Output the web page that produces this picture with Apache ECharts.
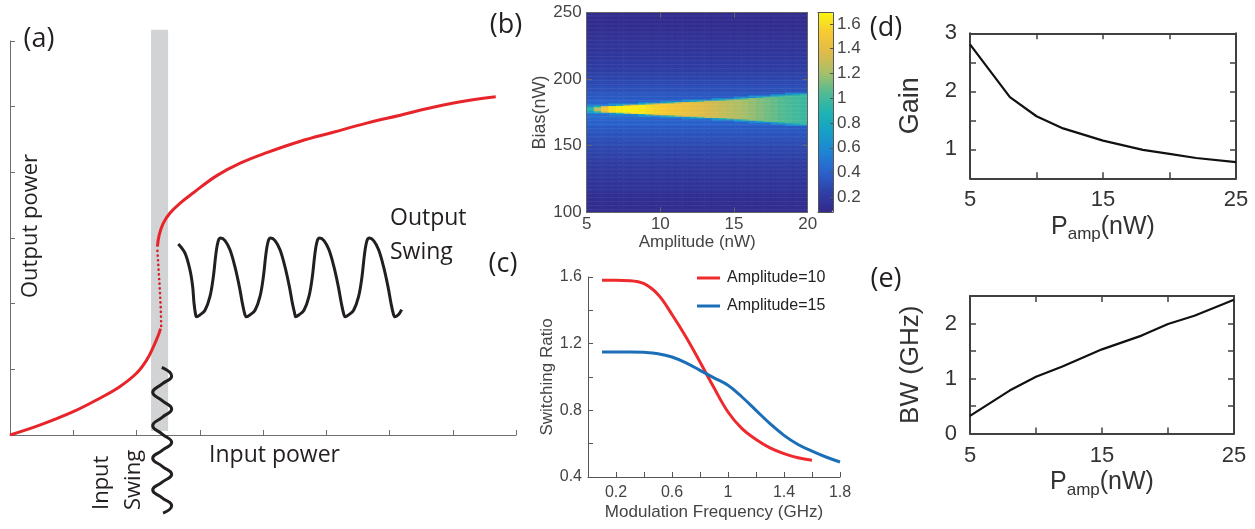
<!DOCTYPE html>
<html><head><meta charset="utf-8">
<script src="https://cdn.jsdelivr.net/npm/echarts@6/dist/echarts.min.js"></script>
<style>html,body{margin:0;padding:0;background:#fff}#c{width:1255px;height:529px}</style>
</head><body><div id="c"></div>
<script>
// ---------- Panel (a): schematic bistable transfer curve (x: 0-8, y: 0-6) ----------
const lowerBranch = [[0,0],[0.47,0.15],[1.0,0.355],[1.42,0.56],[1.74,0.74],[2.0,0.94],[2.16,1.14],[2.27,1.35],[2.345,1.52],[2.38,1.62]];
const unstableBranch = [[2.39,1.66],[2.385,1.9],[2.37,2.2],[2.35,2.5],[2.33,2.82]];
const upperBranch = [[2.33,2.87],[2.36,3.05],[2.42,3.22],[2.53,3.38],[2.69,3.53],[2.90,3.69],[3.27,3.95],[3.64,4.14],[4.06,4.30],[4.58,4.47],[5.11,4.61],[5.64,4.75],[6.17,4.87],[6.69,4.99],[7.22,5.09],[7.68,5.15]];
const outputSwing = [
  [2.661,2.91],[2.767,2.77],[2.846,2.51],[2.888,2.26],[2.909,2.01],[2.935,1.83],
  [2.951,1.80],[3.004,1.83],[3.083,1.90],[3.162,2.11],[3.215,2.41],[3.257,2.77],[3.294,2.96],[3.330,3.00],[3.399,2.96],[3.478,2.82],[3.557,2.56],[3.626,2.26],[3.673,2.01],[3.715,1.83],
  [3.742,1.80],[3.795,1.83],[3.874,1.90],[3.953,2.11],[4.006,2.41],[4.048,2.77],[4.085,2.96],[4.121,3.00],[4.190,2.96],[4.269,2.82],[4.348,2.56],[4.417,2.26],[4.464,2.01],[4.506,1.83],
  [4.516,1.80],[4.569,1.83],[4.648,1.90],[4.727,2.11],[4.780,2.41],[4.822,2.77],[4.859,2.96],[4.895,3.00],[4.964,2.96],[5.043,2.82],[5.122,2.56],[5.191,2.26],[5.238,2.01],[5.280,1.83],
  [5.301,1.80],[5.354,1.83],[5.433,1.90],[5.512,2.11],[5.565,2.41],[5.607,2.77],[5.644,2.96],[5.680,3.00],[5.749,2.96],[5.828,2.82],[5.907,2.56],[5.976,2.26],[6.023,2.01],[6.065,1.83],
  [6.087,1.80],[6.140,1.83],[6.192,1.91]
];
const inputSwing = [[2.40,1.03],[2.556,0.90],[2.406,0.777],[2.256,0.65],[2.406,0.523],[2.556,0.396],[2.406,0.269],[2.256,0.142],[2.406,0.015],[2.556,-0.112],[2.406,-0.234],[2.256,-0.355],[2.406,-0.477],[2.556,-0.599],[2.406,-0.719],[2.256,-0.838],[2.406,-0.957],[2.556,-1.076],[2.42,-1.19]];
const grayBand = [2.23, 2.50, 0.06, 6.17]; // x from, x to, y from, y to

// ---------- Panel (b): heat map, read per amplitude column / bias band ----------
const ampCols = [5.25,5.75,6.25,6.75,7.25,7.75,8.25,8.75,9.25,9.75,10.25,10.75,11.25,11.75,12.25,12.75,13.25,13.75,14.25,14.75,15.25,15.75,16.25,16.75,17.25,17.75,18.25,18.75,19.25,19.75];
const wedgeCenter = 177.5;
const wedgeHalf = [1.7,2.0,2.3,2.5,2.8,3.1,3.4,3.7,4.0,4.3,4.6,4.9,5.2,5.5,5.8,6.1,6.4,6.7,7.0,7.3,7.7,8.1,8.5,8.9,9.4,9.8,10.2,10.6,11.0,11.4];
const wedgePeak = [0.9,1.25,1.5,1.62,1.66,1.67,1.66,1.64,1.6,1.56,1.53,1.5,1.47,1.44,1.41,1.38,1.35,1.32,1.29,1.26,1.23,1.2,1.17,1.14,1.11,1.08,1.05,1.02,1.0,0.98];
const rimValue = 0.6;
// background per 5-nW bias band, from 100 to 250
const bgBands = [0.12,0.12,0.13,0.16,0.17,0.19,0.2,0.22,0.25,0.27,0.3,0.33,0.36,0.4,0.45,0.45,0.4,0.36,0.32,0.29,0.26,0.23,0.21,0.19,0.17,0.16,0.14,0.12,0.11,0.11];
const colorbarTicks = [0.2,0.4,0.6,0.8,1,1.2,1.4,1.6];
// colour scale, equally spaced from 0.08 to 1.69
const colorScale = ['#33288a','#2f40a6','#2a62cc','#1f84d2','#179fc8','#1fb3b3','#52bb92','#a8bf69','#dfbb4a','#f7c933','#f9f50f'];

// ---------- Panel (c) ----------
const freq10 = [0.1,0.2,0.3,0.4,0.5,0.6,0.7,0.8,0.9,1.0,1.1,1.2,1.3,1.4,1.5,1.6];
const ratio10 = [1.58,1.58,1.578,1.56,1.495,1.375,1.24,1.09,0.935,0.79,0.69,0.625,0.575,0.54,0.515,0.50];
const freq15 = [0.1,0.2,0.3,0.4,0.5,0.6,0.7,0.8,0.9,1.0,1.1,1.2,1.3,1.4,1.5,1.6,1.7,1.8];
const ratio15 = [1.15,1.15,1.15,1.148,1.14,1.12,1.085,1.04,0.995,0.95,0.88,0.80,0.72,0.65,0.595,0.555,0.52,0.49];

// ---------- Panels (d), (e) ----------
const pAmp = [5,8,10,12,15,18,20,22,25];
const gain = [2.81,1.90,1.57,1.36,1.15,0.99,0.92,0.85,0.78];
const bw = [0.32,0.78,1.03,1.22,1.53,1.78,1.99,2.14,2.43];

// ---------- build ----------
const biasRows = [];
for (let b = 100; b < 250; b++) biasRows.push(String(b + 0.5));
const heatData = [];
ampCols.forEach((a, i) => {
  biasRows.forEach((bs, j) => {
    const d = Math.abs(parseFloat(bs) - wedgeCenter);
    const hw = wedgeHalf[i];
    let v;
    if (d <= hw - 0.5) v = wedgePeak[i];
    else if (d <= hw + 0.5) { const f = hw + 0.5 - d; v = f * wedgePeak[i] + (1 - f) * rimValue; }
    else if (d <= hw + 1.5) v = rimValue;
    else v = bgBands[Math.floor(j / 5)];
    heatData.push([i, j, v]);
  });
});
const zip = (xs, ys) => xs.map((x, i) => [x, ys[i]]);

const HF = 'Liberation Sans';
const OF = 'Open Sans';
const G = (left, top, width, height) => ({left, top, width, height, containLabel:false, outerBoundsMode:'none', show:false});

function axis(o) {
  const col = o.color || '#555';
  const lw = o.lw || 1;
  const a = {
    type: 'value', gridIndex: o.g, min: o.min, max: o.max, interval: o.interval,
    position: o.position, z: o.z || 0,
    axisLine: {show: true, onZero: false, lineStyle: {color: col, width: lw}},
    axisTick: {show: o.tick !== false, inside: true, length: o.tl || 5, lineStyle: {color: col, width: o.tw || 1}},
    splitLine: {show: false},
    axisLabel: {show: !!o.labels, color: o.lc || '#444', fontSize: o.fs || 16, fontFamily: HF, margin: o.margin || 6},
    name: o.name || '', nameLocation: 'middle', nameGap: o.nameGap || 20,
    nameTextStyle: Object.assign({color: o.lc || '#444', fontSize: o.nfs || 17, fontFamily: HF}, o.nts || {})
  };
  if (o.labels) a.axisLabel.customValues = o.labels;
  if (o.ticks) a.axisTick.customValues = o.ticks;
  return a;
}

const pampName = {
  name:'{p|P}{s|amp}{p|(nW)}', nameGap:32,
  nts:{rich:{p:{fontSize:25, fontFamily:HF, color:'#333'}, s:{fontSize:17, fontFamily:HF, color:'#333', padding:[16,0,0,0]}}}
};

const option = {
  animation: false,
  backgroundColor: '#fff',
  textStyle: {fontFamily: HF},
  grid: [
    G(10, 41, 506, 394),
    G(586.7, 12.7, 221, 199.5),
    G(586.7, 12.7, 221, 199.5),
    G(818, 12.7, 15, 199.5),
    G(588, 277, 252, 200),
    G(970, 33.3, 266, 145),
    G(970, 296, 264, 137.5)
  ],
  xAxis: [
    axis({g:0, min:0, max:8, interval:1, color:'#6d6e71', position:'bottom'}),
    {type:'category', gridIndex:1, data: ampCols.map(String), show:false},
    axis({g:2, min:5, max:20, interval:5, color:'#666', position:'bottom', labels:[5,10,15,20], fs:17, margin:4, z:10,
          name:'Amplitude (nW)', nameGap:22, nfs:17}),
    axis({g:2, min:5, max:20, interval:5, color:'#666', position:'top', z:10}),
    axis({g:3, min:0, max:1, color:'#555', position:'bottom', tick:false, z:10}),
    axis({g:3, min:0, max:1, color:'#555', position:'top', tick:false, z:10}),
    axis({g:4, min:0, max:1.8, interval:0.2, color:'#555', position:'bottom', labels:[0.2,0.6,1,1.4,1.8], fs:16, margin:8,
          name:'Modulation Frequency (GHz)', nameGap:27, nfs:17}),
    axis(Object.assign({g:5, min:5, max:25, interval:5, color:'#404040', lw:2, tw:1.5, tl:6, position:'bottom', labels:[5,15,25], fs:22, margin:11, lc:'#333'}, pampName)),
    axis({g:5, min:5, max:25, interval:5, color:'#404040', lw:2, tw:1.5, tl:6, position:'top'}),
    axis(Object.assign({g:6, min:5, max:25, interval:5, color:'#404040', lw:2, tw:1.5, tl:6, position:'bottom', labels:[5,15,25], fs:22, margin:11, lc:'#333'}, pampName)),
    axis({g:6, min:5, max:25, interval:5, color:'#404040', lw:2, tw:1.5, tl:6, position:'top'})
  ],
  yAxis: [
    axis({g:0, min:0, max:6, interval:1, color:'#6d6e71', position:'left'}),
    {type:'category', gridIndex:1, data: biasRows, show:false},
    axis({g:2, min:100, max:250, interval:50, color:'#666', position:'left', labels:[100,150,200,250], fs:17, margin:5, z:10,
          name:'Bias(nW)', nameGap:37, nfs:18}),
    axis({g:2, min:100, max:250, interval:50, color:'#666', position:'right', z:10}),
    axis({g:3, min:0.08, max:1.69, color:'#555', position:'left', tick:false, z:10}),
    axis({g:3, min:0.08, max:1.69, color:'#555', position:'right', labels:colorbarTicks, ticks:colorbarTicks, tl:3, fs:17, margin:4, z:10}),
    axis({g:4, min:0.4, max:1.6, interval:0.2, color:'#555', position:'left', labels:[0.4,0.8,1.2,1.6], fs:16, margin:6,
          name:'Switching Ratio', nameGap:31, nfs:17}),
    axis({g:5, min:0.5, max:3, interval:0.5, color:'#404040', lw:2, tw:1.5, tl:6, position:'left', labels:[1,2,3], fs:22, margin:13, lc:'#333',
          name:'Gain', nameGap:46, nfs:27}),
    axis({g:5, min:0.5, max:3, interval:0.5, color:'#404040', lw:2, tw:1.5, tl:6, position:'right'}),
    axis({g:6, min:0, max:2.5, interval:0.5, color:'#404040', lw:2, tw:1.5, tl:6, position:'left', labels:[0,1,2], fs:22, margin:13, lc:'#333',
          name:'BW (GHz)', nameGap:46, nfs:26}),
    axis({g:6, min:0, max:2.5, interval:0.5, color:'#404040', lw:2, tw:1.5, tl:6, position:'right'})
  ],
  visualMap: {
    type:'continuous', seriesIndex: 6, min: 0.08, max: 1.69, calculable: false, hoverLink: false,
    left: 818, top: 12.7, itemWidth: 15, itemHeight: 199.5, padding: 0, text: null,
    inRange: {color: colorScale}
  },
  legend: {
    data: ['Amplitude=10', 'Amplitude=15'], orient: 'vertical', left: 692, top: 265, padding: 5,
    icon: 'rect', itemWidth: 23, itemHeight: 3, itemGap: 12, selectedMode: false,
    textStyle: {fontSize: 16, color: '#222', fontFamily: HF, padding: [0,0,0,2]}
  },
  series: [
    {type:'custom', xAxisIndex:0, yAxisIndex:0, data:[grayBand], clip:false, z:1, silent:true,
     encode:{x:[0,1], y:[2,3]},
     renderItem: (params, api) => {
       const p0 = api.coord([api.value(0), api.value(2)]);
       const p1 = api.coord([api.value(1), api.value(3)]);
       return {type:'rect', shape:{x:p0[0], y:p1[1], width:p1[0]-p0[0], height:p0[1]-p1[1]}, style:{fill:'#d1d3d4'}};
     }},
    {type:'line', xAxisIndex:0, yAxisIndex:0, data: lowerBranch, smooth:0.4, symbol:'none', z:3,
     lineStyle:{color:'#e8242b', width:3}},
    {type:'line', xAxisIndex:0, yAxisIndex:0, data: unstableBranch, symbol:'none', z:3,
     lineStyle:{color:'#d42027', width:2.6, type:[0.1,4.6], cap:'round'}},
    {type:'line', xAxisIndex:0, yAxisIndex:0, data: upperBranch, smooth:0.4, symbol:'none', z:3,
     lineStyle:{color:'#e8242b', width:3}},
    {type:'line', xAxisIndex:0, yAxisIndex:0, data: outputSwing, smooth:0.35, symbol:'none', z:3,
     lineStyle:{color:'#231f20', width:3}},
    {type:'line', xAxisIndex:0, yAxisIndex:0, data: inputSwing, smooth:0.5, symbol:'none', z:3, clip:false,
     lineStyle:{color:'#231f20', width:3}},
    {type:'heatmap', xAxisIndex:1, yAxisIndex:1, data: heatData, progressive:0, silent:true, emphasis:{disabled:true}},
    {type:'line', name:'Amplitude=10', xAxisIndex:6, yAxisIndex:6, data: zip(freq10, ratio10), smooth:0.4, symbol:'none',
     lineStyle:{color:'#ee2a2e', width:3}, itemStyle:{color:'#ee2a2e'}},
    {type:'line', name:'Amplitude=15', xAxisIndex:6, yAxisIndex:6, data: zip(freq15, ratio15), smooth:0.4, symbol:'none',
     lineStyle:{color:'#1c6fb7', width:3}, itemStyle:{color:'#1c6fb7'}},
    {type:'line', xAxisIndex:7, yAxisIndex:7, data: zip(pAmp, gain), symbol:'none',
     lineStyle:{color:'#111', width:2.2}},
    {type:'line', xAxisIndex:9, yAxisIndex:9, data: zip(pAmp, bw), symbol:'none',
     lineStyle:{color:'#111', width:2.2}}
  ],
  graphic: [
    {type:'text', x:39, y:39, style:{text:'(a)', fontSize:27, fontFamily:OF, fill:'#231f20', align:'center', verticalAlign:'middle'}},
    {type:'text', x:506, y:25, style:{text:'(b)', fontSize:27, fontFamily:OF, fill:'#231f20', align:'center', verticalAlign:'middle'}},
    {type:'text', x:503, y:264, style:{text:'(c)', fontSize:27, fontFamily:OF, fill:'#231f20', align:'center', verticalAlign:'middle'}},
    {type:'text', x:886, y:28, style:{text:'(d)', fontSize:27, fontFamily:OF, fill:'#231f20', align:'center', verticalAlign:'middle'}},
    {type:'text', x:886, y:279, style:{text:'(e)', fontSize:27, fontFamily:OF, fill:'#231f20', align:'center', verticalAlign:'middle'}},
    {type:'text', x:31, y:226, rotation:Math.PI/2, style:{text:'Output power', fontSize:22, fontFamily:OF, fill:'#231f20', align:'center', verticalAlign:'middle'}},
    {type:'text', x:274.5, y:455, style:{text:'Input power', fontSize:23, fontFamily:OF, fill:'#231f20', align:'center', verticalAlign:'middle'}},
    {type:'text', x:390, y:235, style:{text:'Output\nSwing', fontSize:23, lineHeight:34, fontFamily:OF, fill:'#231f20', align:'left', verticalAlign:'middle'}},
    {type:'text', x:118, y:510, rotation:Math.PI/2, style:{text:'Input\nSwing', fontSize:22, lineHeight:32, fontFamily:OF, fill:'#231f20', align:'left', verticalAlign:'middle'}}
  ]
};
const chart = echarts.init(document.getElementById('c'), null, {renderer:'canvas'});
chart.setOption(option);
</script>
</body></html>
